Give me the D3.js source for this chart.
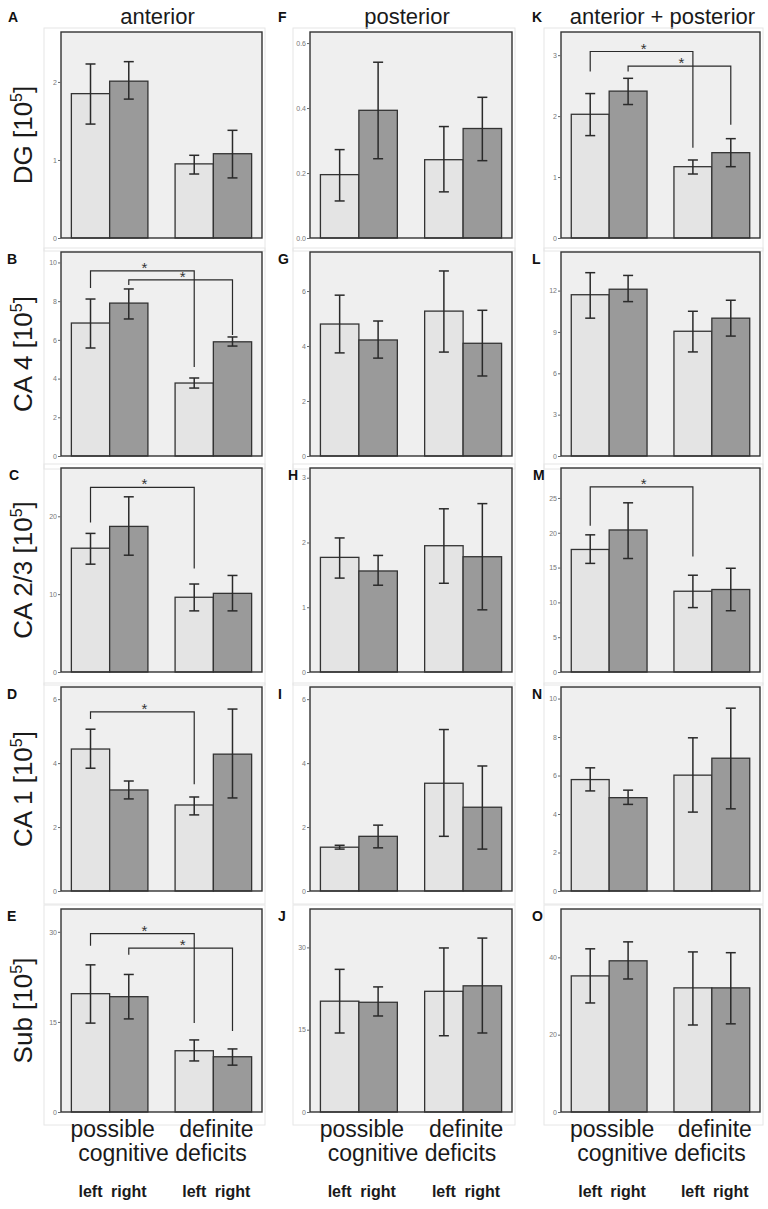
<!DOCTYPE html>
<html><head><meta charset="utf-8">
<script src="https://cdn.jsdelivr.net/npm/d3@7"></script>
<style>body{margin:0;background:#fff}svg{display:block}</style>
</head><body>
<script>
// ---------- data ----------
const regions = ["anterior", "posterior", "anterior + posterior"];
const measures = ["DG", "CA 4", "CA 2/3", "CA 1", "Sub"];
const groups = ["possible", "definite"];
const sides = ["left", "right"];
const panelLetters = [["A","F","K"],["B","G","L"],["C","H","M"],["D","I","N"],["E","J","O"]];

// bar order per panel: possible-left, possible-right, definite-left, definite-right
const dgMeans  = [[1.85,2.01,0.95,1.08],[0.195,0.393,0.241,0.337],[2.03,2.41,1.17,1.40]];
const dgLow    = [[1.46,1.78,0.82,0.77],[0.114,0.244,0.142,0.238],[1.68,2.19,1.05,1.17]];
const dgHigh   = [[2.23,2.26,1.06,1.38],[0.272,0.541,0.343,0.433],[2.37,2.62,1.28,1.63]];
const ca4Means = [[6.87,7.90,3.77,5.90],[4.80,4.22,5.27,4.10],[11.7,12.1,9.05,10.0]];
const ca4Low   = [[5.58,7.08,3.51,5.68],[3.75,3.56,3.78,2.91],[10.0,11.2,7.55,8.7]];
const ca4High  = [[8.11,8.63,4.03,6.15],[5.85,4.91,6.73,5.30],[13.3,13.1,10.5,11.3]];
const ca23Means= [[15.9,18.7,9.6,10.1],[1.77,1.56,1.95,1.78],[17.6,20.4,11.6,11.85]];
const ca23Low  = [[13.85,15.0,7.85,7.85],[1.45,1.34,1.37,0.96],[15.6,16.3,9.25,8.8]];
const ca23High = [[17.8,22.5,11.3,12.4],[2.07,1.80,2.52,2.60],[19.7,24.3,13.9,14.9]];
const ca1Means = [[4.44,3.16,2.69,4.28],[1.37,1.71,3.37,2.62],[5.79,4.85,6.02,6.90]];
const ca1Low   = [[3.84,2.88,2.38,2.91],[1.31,1.35,1.71,1.31],[5.20,4.50,4.10,4.27]];
const ca1High  = [[5.06,3.44,2.94,5.69],[1.43,2.06,5.05,3.91],[6.40,5.24,7.96,9.50]];
const subMeans = [[19.7,19.2,10.2,9.2],[20.2,20.0,22.0,23.0],[35.2,39.1,32.1,32.1]];
const subLow   = [[14.8,15.5,8.5,7.8],[14.4,17.5,13.9,14.4],[28.2,34.4,22.5,22.8]];
const subHigh  = [[24.5,22.9,12.0,10.5],[26.0,22.8,29.9,31.7],[42.2,44.0,41.4,41.2]];

const yTicks = [
  [[0,1,2],[0,0.2,0.4,0.6],[0,1,2,3]],
  [[0,2,4,6,8,10],[0,2,4,6],[0,3,6,9,12]],
  [[0,10,20],[0,1,2,3],[0,5,10,15,20,25]],
  [[0,2,4,6],[0,2,4,6],[0,2,4,6,8,10]],
  [[0,15,30],[0,15,30],[0,20,40]]
];
const yMax = [[2.64,0.634,3.38],[10.54,7.42,14.8],[26.2,3.15,29.3],[6.38,6.38,10.6],[33.8,37.0,52.5]];

// significance brackets: panel, from bar, to bar, bracket level, left leg end, right leg end
const brackets = [
  ["K",0,2,3.06,2.73,1.48],["K",1,3,2.82,2.73,1.86],
  ["B",0,2,9.56,8.68,4.60],["B",1,3,9.10,8.84,6.25],
  ["C",0,2,23.7,19.2,13.3],
  ["M",0,2,26.6,21.0,16.6],
  ["D",0,2,5.60,5.38,3.34],
  ["E",0,2,29.7,27.7,14.8],["E",1,3,27.3,26.2,13.5]
];

const rowMeans = [dgMeans, ca4Means, ca23Means, ca1Means, subMeans];
const rowLow = [dgLow, ca4Low, ca23Low, ca1Low, subLow];
const rowHigh = [dgHigh, ca4High, ca23High, ca1High, subHigh];

// ---------- layout ----------
const W = 768, H = 1209;
const colX = [[61,262],[310,512],[561,760]];
const rowY = [[32,238],[252,456],[468,672],[687,891],[909,1112]];
const letterX = [[8,278,532],[7,278,532],[9,288,533],[7,278,532],[7,278,532]];
const FONT = "'Liberation Sans', Arial, sans-serif";
const lightFill = "#e4e4e4", darkFill = "#9a9a9a", bgFill = "#efefef", ink = "#2a2a2a";

const svg = d3.select("body").append("svg").attr("width", W).attr("height", H)
  .style("font-family", FONT);

// column titles
regions.forEach((t, c) => {
  svg.append("text").attr("x", (colX[c][0] + colX[c][1]) / 2 + (c === 2 ? 2 : -4)).attr("y", 24)
    .attr("text-anchor", "middle").attr("font-size", 22).attr("fill", "#1a1a1a").text(t);
});

measures.forEach((m, r) => {
  // y label
  const [yt, yb] = rowY[r];
  const lab = svg.append("text")
    .attr("transform", `translate(32,${(yt + yb) / 2}) rotate(-90)`)
    .attr("text-anchor", "middle").attr("font-size", 26).attr("fill", "#1a1a1a");
  lab.append("tspan").text(`${m} [10`);
  lab.append("tspan").attr("font-size", 16).attr("dy", -10).text("5");
  lab.append("tspan").attr("dy", 10).text("]");

  for (let c = 0; c < 3; c++) {
    const [x0, x1] = colX[c];
    const letter = panelLetters[r][c];
    const g = svg.append("g");
    const y = d3.scaleLinear().domain([0, yMax[r][c]]).range([yb, yt]);
    const xg = d3.scaleBand().domain(groups).range([x0, x1]).paddingInner(0.262).paddingOuter(0.1);
    const xs = d3.scaleBand().domain(sides).range([0, xg.bandwidth()]).padding(0);
    const bars = [];
    groups.forEach((gr, gi) => sides.forEach((sd, si) => {
      const i = gi * 2 + si;
      bars.push({gr, sd, i, mean: rowMeans[r][c][i], lo: rowLow[r][c][i], hi: rowHigh[r][c][i],
        x: xg(gr) + xs(sd), w: xs.bandwidth()});
    }));

    // faint outer chart border
    g.append("rect").attr("x", x0 - 17).attr("y", yt - 4).attr("width", x1 - x0 + 20)
      .attr("height", yb - yt + 17).attr("fill", "none").attr("stroke", "#e6e6e6").attr("stroke-width", 1);
    // plot background
    g.append("rect").attr("x", x0).attr("y", yt).attr("width", x1 - x0).attr("height", yb - yt)
      .attr("fill", bgFill);

    // bars
    g.selectAll("rect.bar").data(bars).join("rect").attr("class", "bar")
      .attr("x", d => d.x).attr("width", d => d.w)
      .attr("y", d => y(d.mean)).attr("height", d => y(0) - y(d.mean))
      .attr("fill", d => d.sd === "left" ? lightFill : darkFill)
      .attr("stroke", "#333").attr("stroke-width", 1.3);

    // error bars
    const eb = g.selectAll("g.eb").data(bars).join("g").attr("class", "eb")
      .attr("stroke", ink).attr("stroke-width", 1.5);
    eb.append("line").attr("x1", d => d.x + d.w / 2).attr("x2", d => d.x + d.w / 2)
      .attr("y1", d => y(d.lo)).attr("y2", d => y(d.hi));
    eb.append("line").attr("x1", d => d.x + d.w / 2 - 5).attr("x2", d => d.x + d.w / 2 + 5)
      .attr("y1", d => y(d.hi)).attr("y2", d => y(d.hi));
    eb.append("line").attr("x1", d => d.x + d.w / 2 - 5).attr("x2", d => d.x + d.w / 2 + 5)
      .attr("y1", d => y(d.lo)).attr("y2", d => y(d.lo));

    // significance brackets
    brackets.filter(b => b[0] === letter).forEach(b => {
      const xa = bars[b[1]].x + bars[b[1]].w / 2, xb = bars[b[2]].x + bars[b[2]].w / 2;
      g.append("path")
        .attr("d", `M${xa},${y(b[4])}V${y(b[3])}H${xb}V${y(b[5])}`)
        .attr("fill", "none").attr("stroke", ink).attr("stroke-width", 1.2);
      g.append("text").attr("x", (xa + xb) / 2 + 2).attr("y", y(b[3]) + 2)
        .attr("text-anchor", "middle").attr("font-size", 15).attr("fill", "#333").text("*");
    });

    // frame
    g.append("rect").attr("x", x0).attr("y", yt).attr("width", x1 - x0).attr("height", yb - yt)
      .attr("fill", "none").attr("stroke", "#333").attr("stroke-width", 1.4);

    // y axis
    const fmt = c === 1 && r === 0 ? d3.format(".1f") : d3.format("d");
    const ax = g.append("g").attr("transform", `translate(${x0},0)`)
      .call(d3.axisLeft(y).tickValues(yTicks[r][c]).tickSize(3).tickPadding(1).tickFormat(fmt));
    ax.select(".domain").remove();
    ax.selectAll(".tick line").attr("stroke", "#666");
    ax.selectAll(".tick text").attr("font-size", 7).attr("fill", "#777").attr("font-family", FONT);

    // panel letter
    svg.append("text").attr("x", letterX[r][c]).attr("y", r === 0 ? 22 : yt + 12)
      .attr("font-size", 14).attr("font-weight", "bold").attr("fill", "#111").text(letter);

    // bottom labels
    if (r === 4) {
      const xl = svg.append("g").attr("fill", "#1a1a1a");
      groups.forEach(gr => {
        xl.append("text").attr("x", xg(gr) + xg.bandwidth() / 2 + 3).attr("y", 1137)
          .attr("text-anchor", "middle").attr("font-size", 23).text(gr);
      });
      xl.append("text").attr("x", (x0 + x1) / 2 + 1).attr("y", 1161)
        .attr("text-anchor", "middle").attr("font-size", 23).text("cognitive deficits");
      bars.forEach(d => {
        xl.append("text").attr("x", d.x + d.w / 2).attr("y", 1197)
          .attr("text-anchor", "middle").attr("font-size", 16).attr("font-weight", "bold").text(d.sd);
      });
    }
  }
});
</script>
</body></html>
